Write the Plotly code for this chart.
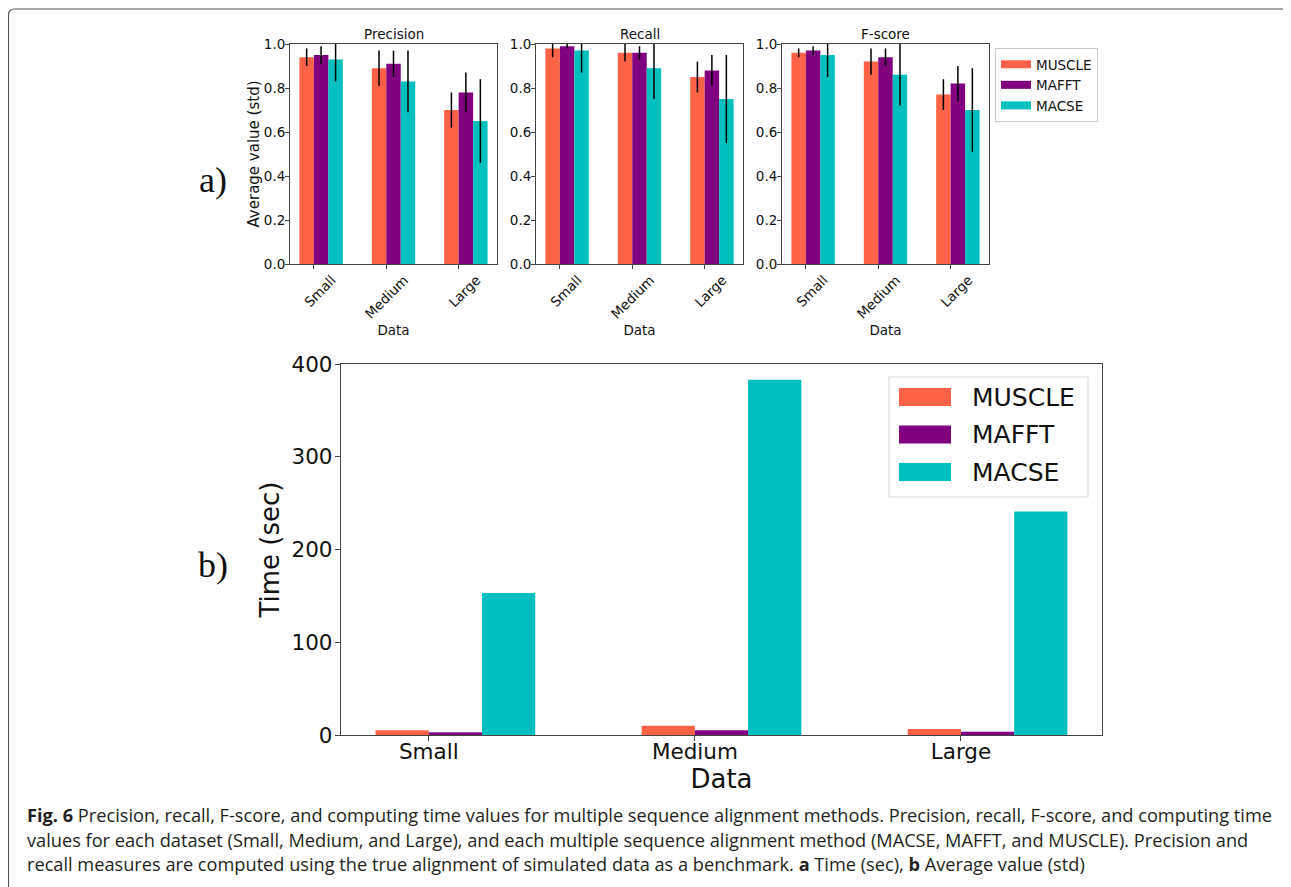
import plotly.graph_objects as go

W, H = 1291, 887          # browser window
OFF = 8                   # page body margin in the browser
FW, FH = W - OFF, H - OFF  # figure size so it ends at the window edge

categories = ["Small", "Medium", "Large"]
methods = ["MUSCLE", "MAFFT", "MACSE"]
colors = ["#FF6347", "#800080", "#00BFBF"]

# Precision (mean, std) per method across Small/Medium/Large
precision_muscle = [0.94, 0.89, 0.70]
precision_mafft = [0.95, 0.91, 0.78]
precision_macse = [0.93, 0.83, 0.65]
precision_muscle_std = [0.04, 0.08, 0.08]
precision_mafft_std = [0.04, 0.06, 0.09]
precision_macse_std = [0.10, 0.14, 0.19]

# Recall
recall_muscle = [0.98, 0.96, 0.85]
recall_mafft = [0.99, 0.96, 0.88]
recall_macse = [0.97, 0.89, 0.75]
recall_muscle_std = [0.04, 0.04, 0.07]
recall_mafft_std = [0.01, 0.03, 0.07]
recall_macse_std = [0.10, 0.14, 0.20]

# F-score
fscore_muscle = [0.96, 0.92, 0.77]
fscore_mafft = [0.97, 0.94, 0.82]
fscore_macse = [0.95, 0.86, 0.70]
fscore_muscle_std = [0.02, 0.06, 0.07]
fscore_mafft_std = [0.02, 0.04, 0.08]
fscore_macse_std = [0.10, 0.14, 0.19]

# Computing time (sec)
time_muscle = [5.0, 10.0, 6.5]
time_mafft = [3.0, 5.0, 3.6]
time_macse = [153, 383, 241]

top_ticks = [0.0, 0.2, 0.4, 0.6, 0.8, 1.0]
bottom_ticks = [0, 100, 200, 300, 400]


def px(x):
    return (x - OFF) / FW


def py(y):
    return 1 - (y - OFF) / FH


xs = list(range(len(categories)))
BAR_W = 0.2
XR = [-0.33, 2.53]
FONT = "DejaVu Sans"
TXT = "#111111"

fig = go.Figure()

panels = [
    ("Precision", [precision_muscle, precision_mafft, precision_macse],
     [precision_muscle_std, precision_mafft_std, precision_macse_std]),
    ("Recall", [recall_muscle, recall_mafft, recall_macse],
     [recall_muscle_std, recall_mafft_std, recall_macse_std]),
    ("F-score", [fscore_muscle, fscore_mafft, fscore_macse],
     [fscore_muscle_std, fscore_mafft_std, fscore_macse_std]),
]

for i, (title, means, stds) in enumerate(panels):
    sfx = "" if i == 0 else str(i + 1)
    for j, m in enumerate(methods):
        fig.add_trace(go.Bar(
            x=xs, y=means[j], name=m,
            width=BAR_W, offset=-BAR_W + BAR_W * j,
            marker=dict(color=colors[j], line=dict(width=0)),
            error_y=dict(type="data", array=stds[j], color="black",
                         thickness=1.5, width=0),
            xaxis="x" + sfx, yaxis="y" + sfx, showlegend=False,
        ))

times = [time_muscle, time_mafft, time_macse]
for j, m in enumerate(methods):
    fig.add_trace(go.Bar(
        x=xs, y=times[j], name=m,
        width=BAR_W, offset=-BAR_W + BAR_W * j,
        marker=dict(color=colors[j], line=dict(width=0)),
        xaxis="x4", yaxis="y4", showlegend=False,
    ))

# legend entries for the top panels (line icons resemble matplotlib patches)
for j, m in enumerate(methods):
    fig.add_trace(go.Scatter(
        x=[None], y=[None], mode="lines", name=m,
        line=dict(color=colors[j], width=8),
        xaxis="x3", yaxis="y3", legend="legend",
    ))

SPINE = "#444444"

top_x = [(290, 497), (536, 743), (782, 989)]
top_y = (44, 264)

layout = dict(
    width=FW, height=FH,
    margin=dict(l=0, r=0, t=0, b=0, pad=0, autoexpand=False),
    paper_bgcolor="white", plot_bgcolor="white",
    barmode="overlay",
    font=dict(family=FONT, color=TXT),
    showlegend=True,
)

for i, (x0, x1) in enumerate(top_x):
    sfx = "" if i == 0 else str(i + 1)
    layout["xaxis" + sfx] = dict(
        domain=[px(x0), px(x1)], anchor="y" + sfx, range=XR,
        tickvals=xs, ticktext=categories, tickangle=-45,
        ticklabelshift=18, ticklabelstandoff=-2,
        ticks="outside", ticklen=4, tickcolor=SPINE,
        showline=True, linecolor=SPINE, linewidth=1, mirror=True,
        showgrid=False, zeroline=False, automargin=False,
        tickfont=dict(size=13.5, family=FONT, color=TXT),
        title=dict(text="Data", font=dict(size=13.5, family=FONT, color=TXT),
                   standoff=0),
    )
    layout["yaxis" + sfx] = dict(
        domain=[py(top_y[1]), py(top_y[0])], anchor="x" + sfx, range=[0, 1.0],
        tickvals=top_ticks, tickformat=".1f", ticklabelstandoff=-3,
        ticks="outside", ticklen=4, tickcolor=SPINE,
        showline=True, linecolor=SPINE, linewidth=1, mirror=True,
        showgrid=False, zeroline=False, automargin=False,
        tickfont=dict(size=13.5, family=FONT, color=TXT),
    )
layout["yaxis"]["title"] = dict(text="Average value (std)",
                                font=dict(size=15, family=FONT, color=TXT),
                                standoff=0)

layout["xaxis4"] = dict(
    domain=[px(341), px(1102)], anchor="y4", range=XR,
    tickvals=xs, ticktext=categories, tickangle=0, ticklabelstandoff=-8,
    ticks="outside", ticklen=5, tickcolor=SPINE,
    showline=True, linecolor=SPINE, linewidth=1.3, mirror=True,
    showgrid=False, zeroline=False, automargin=False,
    tickfont=dict(size=21.5, family=FONT, color=TXT),
    title=dict(text="Data", font=dict(size=26, family=FONT, color=TXT), standoff=0),
)
layout["yaxis4"] = dict(
    domain=[py(735), py(364)], anchor="x4", range=[0, 400],
    tickvals=bottom_ticks, ticklabelstandoff=-2,
    ticks="outside", ticklen=5, tickcolor=SPINE,
    showline=True, linecolor=SPINE, linewidth=1.3, mirror=True,
    showgrid=False, zeroline=False, automargin=False,
    tickfont=dict(size=21.5, family=FONT, color=TXT),
    title=dict(text="Time (sec)", font=dict(size=26, family=FONT, color=TXT),
               standoff=4),
)

layout["legend"] = dict(
    x=px(995), y=py(48), xanchor="left", yanchor="top",
    bgcolor="white", bordercolor="#cccccc", borderwidth=1,
    font=dict(size=13.5, family=FONT, color=TXT), tracegroupgap=0,
)

fig.update_layout(**layout)

# subplot titles
for i, (title, _, _) in enumerate(panels):
    sfx = "" if i == 0 else str(i + 1)
    fig.add_annotation(
        text=title, xref=("x" + sfx) + " domain", yref=("y" + sfx) + " domain",
        x=0.5, y=1.0, xanchor="center", yanchor="bottom", yshift=0,
        showarrow=False, font=dict(size=13.5, family=FONT, color=TXT),
    )

# legend for the time panel (matplotlib-style wide patches)
LEG_BOX = (889, 377, 1088, 497)
fig.add_shape(type="rect", xref="paper", yref="paper",
              x0=px(LEG_BOX[0]), x1=px(LEG_BOX[2]),
              y0=py(LEG_BOX[3]), y1=py(LEG_BOX[1]),
              line=dict(color="#dddddd", width=1.2), fillcolor="white",
              layer="above")
for j, m in enumerate(methods):
    yc = 397 + 37.5 * j
    fig.add_shape(type="rect", xref="paper", yref="paper",
                  x0=px(899), x1=px(951), y0=py(yc + 9), y1=py(yc - 9),
                  line=dict(width=0), fillcolor=colors[j], layer="above")
    fig.add_annotation(
        text=m, xref="paper", yref="paper", x=px(970), y=py(yc),
        xanchor="left", yanchor="middle", showarrow=False,
        font=dict(size=25, family=FONT, color=TXT),
    )

# panel labels
for lab, yy in [("a)", 180), ("b)", 565)]:
    fig.add_annotation(
        text=lab, xref="paper", yref="paper", x=px(213), y=py(yy),
        xanchor="center", yanchor="middle", showarrow=False,
        font=dict(size=36, family="Liberation Serif", color=TXT),
    )

# caption
caption_lines = [
    "<b>Fig. 6</b> Precision, recall, F-score, and computing time values for multiple sequence alignment methods. Precision, recall, F-score, and computing time",
    "values for each dataset (Small, Medium, and Large), and each multiple sequence alignment method (MACSE, MAFFT, and MUSCLE). Precision and",
    "recall measures are computed using the true alignment of simulated data as a benchmark. <b>a</b> Time (sec), <b>b</b> Average value (std)",
]
for k, line in enumerate(caption_lines):
    fig.add_annotation(
        text=line, xref="paper", yref="paper", x=px(25), y=py(815 + 24.5 * k),
        xanchor="left", yanchor="middle", showarrow=False, align="left",
        font=dict(size=18.2, family="Open Sans", color="#231f20"),
    )

# outer frame (left and top edges with rounded corner)
fig.add_shape(
    type="path", xref="paper", yref="paper",
    path=(f"M {px(8.5)},{py(900)} L {px(8.5)},{py(15)} "
          f"Q {px(8.5)},{py(9)} {px(14.5)},{py(9)} L {px(1288)},{py(9)}"),
    line=dict(color="#555555", width=1.2),
)

fig.write_html("out.html")
